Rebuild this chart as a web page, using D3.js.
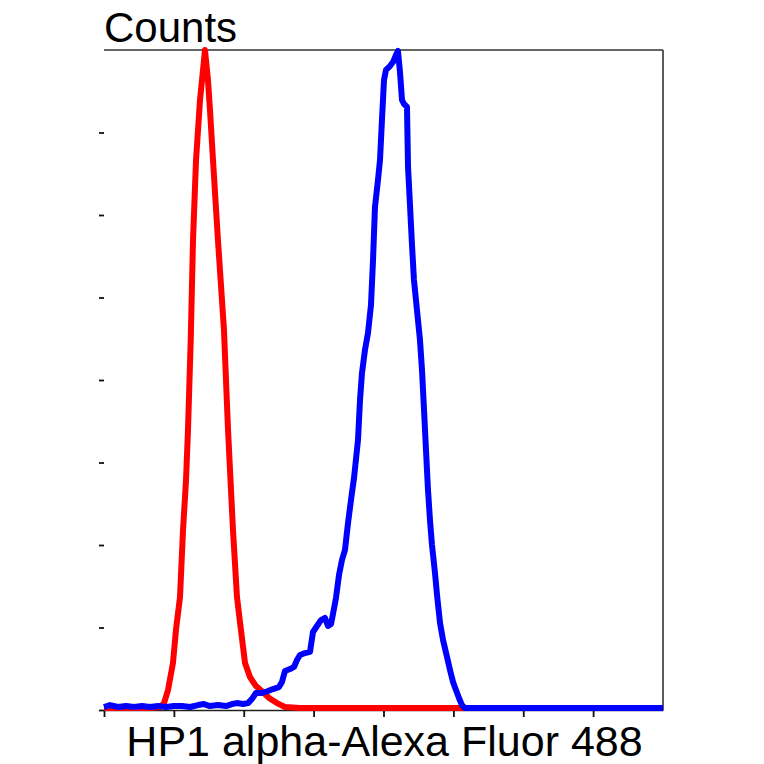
<!DOCTYPE html>
<html>
<head>
<meta charset="utf-8">
<script src="https://cdn.jsdelivr.net/npm/d3@7"></script>
<style>
    html, body { margin: 0; padding: 0; background: #fff; }
    svg text { font-family: "Liberation Sans", Arial, sans-serif; fill: #000; }
</style>
</head>
<body>
<svg id="chart" width="764" height="764"></svg>
<script>
// isotype control (red) - [channel, counts]
const controlX = [0, 65.8, 80.1, 85.9, 91.6, 98.7, 103.0, 108.8, 113.1, 117.4, 120.2, 124.1, 127.4, 131.7, 137.4, 141.7, 144.5,
    148.8, 151.7, 156.0, 163.1, 171.7, 177.5, 184.6, 190.3, 194.6, 201.8, 208.9, 217.5, 227.5, 236.1, 247.6, 259.0, 280.5, 800];
const controlY = [1.2, 1.2, 1.8, 4.2, 12.1, 28.5, 48.5, 68.5, 109.1, 139.4, 169.7, 224.2, 284.8, 333.3, 369.7, 387.8, 400,
    381.8, 363.6, 333.3, 284.8, 230.3, 169.7, 109.1, 68.5, 53.3, 28.5, 20.0, 14.5, 10.9, 7.3, 4.2, 1.8, 1.2, 1.2];

// HP1 alpha stained sample (blue)
const sampleX = [0, 8.6, 20.0, 31.5, 42.9, 54.4, 65.8, 77.3, 88.7, 100.2, 111.6, 123.1, 134.5, 143.1, 151.7, 163.1, 174.6,
    183.2, 190.3, 198.9, 206.1, 211.8, 217.5, 226.1, 234.7, 241.9, 250.4, 254.7, 259.0, 266.2, 271.9, 276.2, 280.5, 287.7,
    294.8, 299.1, 304.8, 310.5, 316.3, 320.6, 324.9, 327.7, 332.0, 336.3, 340.6, 344.9, 349.2, 353.5, 357.8, 363.5,
    366.4, 369.2, 373.5, 377.8, 382.1, 385.0, 387.8, 392.1, 395.0, 397.8, 400.7, 403.6, 409.3, 413.6, 417.9, 420.7, 423.6,
    426.5, 429.3, 433.6, 435.1, 437.9, 440.8, 443.6, 447.9, 452.2, 455.1, 458.0, 460.8, 463.7, 466.5, 469.4, 473.7, 476.6,
    480.9, 485.2, 490.9, 495.2, 499.5, 503.7, 508.0, 512.3, 516.6, 538.1, 800];
const sampleY = [1.8, 3.0, 1.8, 2.4, 1.8, 2.4, 1.8, 2.4, 1.8, 2.4, 2.4, 1.8, 3.0, 3.6, 2.4, 3.0, 2.4,
    3.6, 4.2, 3.6, 4.2, 6.7, 10.3, 10.3, 11.5, 12.7, 13.9, 17.0, 23.6, 24.8, 26.1, 30.3, 33.3, 34.5,
    35.2, 47.3, 50.9, 54.5, 55.8, 50.9, 52.1, 58.2, 67.9, 81.8, 90.9, 97.0, 113.3, 127.3, 140.6, 163.6,
    187.9, 204.2, 218.2, 228.5, 245.5, 272.7, 304.8, 321.2, 333.3, 357.6, 381.8, 387.9, 390.3, 392.7, 397.0, 399.4, 386.7,
    369.7, 367.3, 365.5, 329.1, 306.1, 281.8, 260.6, 242.4, 224.2, 206.1, 181.8, 157.6, 133.3, 115.2, 100.0, 83.0, 69.7,
    52.7, 42.4, 32.1, 24.2, 17.0, 12.1, 7.3, 3.0, 1.2, 1.2, 1.2];

const xTicks = [0, 100, 200, 300, 400, 500, 600, 700];
const yTicks = [0, 50, 100, 150, 200, 250, 300, 350];
const xLabel = 'HP1 alpha-Alexa Fluor 488';
const yLabel = 'Counts';

const margin = { top: 50, right: 101, bottom: 54, left: 104 };
const width = 764 - margin.left - margin.right;
const height = 764 - margin.top - margin.bottom;

const svg = d3.select('#chart');
const g = svg.append('g')
    .attr('transform', `translate(${margin.left},${margin.top})`);

const x = d3.scaleLinear().domain([0, 800]).range([0, width]);
const y = d3.scaleLinear().domain([0, 400]).range([height, 0]);

// axes: ticks only, no labels
const yAxis = g.append('g')
    .attr('class', 'axis yAxis')
    .call(d3.axisLeft(y).tickValues(yTicks).tickSize(5).tickFormat(''));
const xAxis = g.append('g')
    .attr('class', 'axis xAxis')
    .attr('transform', `translate(0,${height})`)
    .call(d3.axisBottom(x).tickValues(xTicks).tickSize(7).tickSizeOuter(0).tickFormat(''));
yAxis.selectAll('.domain').remove();
xAxis.select('.domain').attr('stroke', '#222').attr('stroke-width', 1.5);
g.selectAll('.tick line').attr('stroke', '#111').attr('stroke-width', 1.8);

// frame: top and right edges
g.append('line')
    .attr('x1', 0).attr('x2', width)
    .attr('y1', 0).attr('y2', 0)
    .attr('stroke', '#333').attr('stroke-width', 1.6);
g.append('line')
    .attr('x1', width).attr('x2', width)
    .attr('y1', 0).attr('y2', height)
    .attr('stroke', '#333').attr('stroke-width', 1.6);

const line = d3.line()
    .x(d => x(d[0]))
    .y(d => y(d[1]));

const series = [
    { name: 'control', color: '#ff0000', points: d3.zip(controlX, controlY) },
    { name: 'sample', color: '#0000ff', points: d3.zip(sampleX, sampleY) },
];

g.selectAll('.series')
    .data(series)
    .join('path')
    .attr('class', 'series')
    .attr('fill', 'none')
    .attr('stroke', d => d.color)
    .attr('stroke-width', 6)
    .attr('stroke-linejoin', 'round')
    .attr('d', d => line(d.points));

svg.append('text')
    .attr('x', margin.left)
    .attr('y', 42)
    .attr('font-size', 42)
    .text(yLabel);

svg.append('text')
    .attr('x', margin.left + width / 2 + 1)
    .attr('y', 756)
    .attr('text-anchor', 'middle')
    .attr('font-size', 43)
    .text(xLabel);
</script>
</body>
</html>
